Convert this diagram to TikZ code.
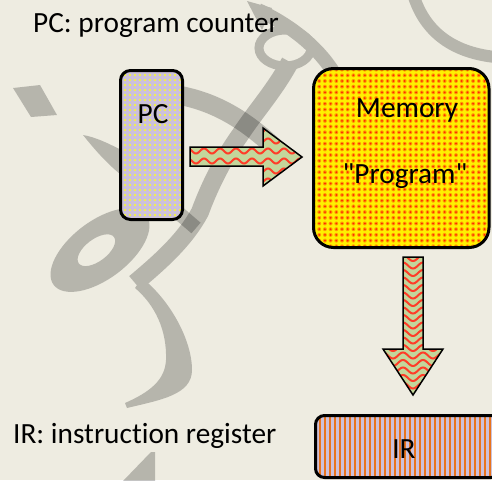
\documentclass[tikz,border=0pt]{standalone}
\usepackage{fontspec}
\setmainfont{Carlito}[Ligatures={TeXOff,NoCommon}]
\usetikzlibrary{patterns.meta,calc}
\definecolor{bgc}{HTML}{EEECE1}
\definecolor{lav}{HTML}{CCC1DA}
\definecolor{olv}{HTML}{C3D69B}
\definecolor{wavered}{HTML}{FF3C28}
\definecolor{memyel}{HTML}{FFF000}
\definecolor{memorg}{HTML}{FF9C00}
\definecolor{memred}{HTML}{FF2A00}
\definecolor{irorg}{HTML}{E9741C}
\definecolor{dotyel}{HTML}{FFFF20}
\begin{document}
\begin{tikzpicture}[x=1pt,y=-1pt,
  lbl/.style={font=\fontsize{29.3}{35}\selectfont, inner sep=0pt},
  boxline/.style={draw=black, line width=3pt, inner sep=0pt},
  pcbox/.style={boxline, rounded corners=10pt, minimum width=62pt, minimum height=149pt,
    preaction={fill=lav},
    preaction={pattern={Dots[distance=5pt,radius=1.05pt]}, pattern color=dotyel}},
  membox/.style={boxline, rounded corners=20pt, minimum width=175.5pt, minimum height=179pt,
    preaction={fill=memyel},
    preaction={pattern={Dots[distance=5.7pt,radius=2pt]}, pattern color=memorg},
    preaction={pattern={Dots[distance=5.7pt,radius=1pt]}, pattern color=memred}},
  irbox/.style={boxline, rounded corners=9pt, minimum width=184.5pt, minimum height=62pt,
    preaction={fill=lav},
    preaction={pattern={Lines[angle=90,distance=5pt,line width=2.6pt]}, pattern color=irorg}},
  blockarrow/.style={draw=black, line width=1.5pt, line join=miter},
  wave/.style={draw=wavered, line width=2pt},
  wm/.style={fill=black},
  wms/.style={draw=black}
]
\useasboundingbox (0,0) rectangle (492,480);
\fill[bgc] (0,0) rectangle (492,480);

% watermark (calligraphy), group A
\begin{scope}[transparency group, opacity=0.23]
  \fill[wm] (13,88) -- (40,85) -- (57,115) -- (31,117) -- cycle;
  \draw[wms, line width=12pt] (414,-3) .. controls (425,30) and (450,52) .. (495,57);
  \fill[wm] (247,1) -- (272,8) -- (262,30) -- cycle;
  \draw[wms, line width=14pt] (258,10) .. controls (290,25) and (325,50) .. (342,88);
  \draw[wms, line width=9pt] (285,48) ellipse [x radius=26, y radius=18];
  \draw[wms, line width=18pt] (290,62) .. controls (275,90) and (255,112) .. (240,135)
     .. controls (222,160) and (208,190) .. (200,212)
     .. controls (185,240) and (160,262) .. (135,283);
  \fill[wm] (142,278) .. controls (170,300) and (192,340) .. (192,370)
     .. controls (192,395) and (160,400) .. (127,408) -- (125,403)
     .. controls (150,392) and (165,380) .. (166,360)
     .. controls (167,330) and (155,305) .. (135,288) -- cycle;
  \fill[wm] (123,481) -- (151,452) -- (155,452) -- (155,481) -- cycle;
\end{scope}
% watermark, group B
\begin{scope}[transparency group, opacity=0.23]
  \draw[wms, line width=19pt] (178,95) .. controls (210,101) and (240,115) .. (275,148);
  \fill[wm] (83,135) .. controls (95,137) and (108,143) .. (125,152) -- (125,178)
     .. controls (108,165) and (95,150) .. cycle;
  \draw[wms, line width=14pt] (160,197) -- (196,228);
  \fill[wm, even odd rule, rotate around={37:(100,250)}]
     (100,250) ellipse [x radius=58, y radius=29]
     (97,248) ellipse [x radius=22, y radius=11];
\end{scope}

% boxes
\node[pcbox] (pc) at (151.5,145) {};
\node[membox] (mem) at (401.25,158) {};
\node[irbox] (ir) at (407.75,446.5) {};

% texts
\node[lbl, anchor=base west] (pclbl) at (33,32) {PC: program counter};
\node[lbl, anchor=base west] (irlbl) at (13,443) {IR: instruction register};
\node[lbl, anchor=base] (pctxt) at (153,123) {PC};
\node[lbl, anchor=base] (memtxt) at (407,117) {Memory};
\node[lbl, anchor=base] (progtxt) at (405,183) {"Program"};
\node[lbl, anchor=base] (irtxt) at (404,458) {IR};

% right block arrow  PC -> Memory
\def\rarrow{(190,147) -- (263,147) -- (263,128) -- (302,157) -- (263,186) -- (263,166) -- (190,166) -- cycle}
\fill[olv] \rarrow;
\begin{scope}
  \clip \rarrow;
  \foreach \yy in {131,141,151,161,171,181}
    \draw[wave] plot[domain=186:306, samples=121] (\x, {\yy + 2.5*sin(22.5*\x)});
\end{scope}
\draw[blockarrow] \rarrow;

% down block arrow  Memory -> IR
\def\darrow{(403,257) -- (423,257) -- (423,349) -- (443,349) -- (413,395) -- (383,349) -- (403,349) -- cycle}
\fill[olv] \darrow;
\begin{scope}
  \clip \darrow;
  \foreach \yy in {258,265.5,...,398}
    \draw[wave] plot[domain=380:446, samples=67] (\x, {\yy + 3*sin(18*(\x-408))});
\end{scope}
\draw[blockarrow] \darrow;
\end{tikzpicture}
\end{document}
